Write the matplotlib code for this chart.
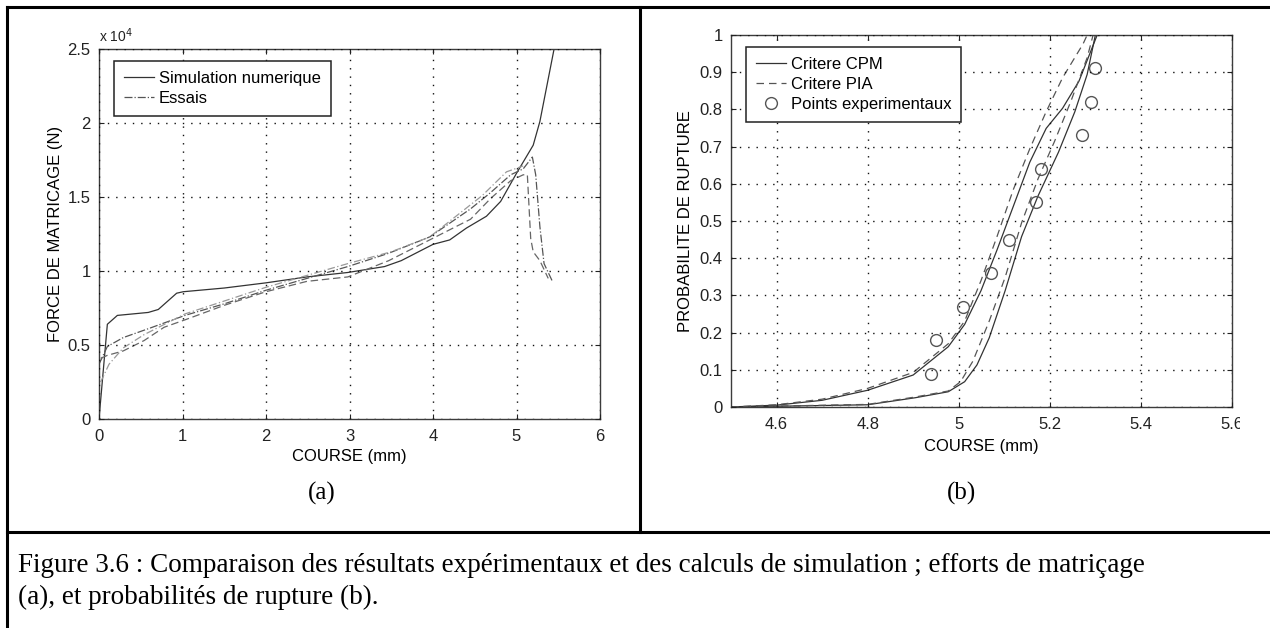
import numpy as np
import matplotlib
matplotlib.use("Agg")
import matplotlib.pyplot as plt
from matplotlib.lines import Line2D
from matplotlib.patches import Rectangle
from matplotlib.ticker import FuncFormatter

plt.rcParams['font.family'] = ['Liberation Sans', 'DejaVu Sans']

# (a) force de matricage (N) en fonction de la course (mm)
sim_x = [0, 0.1, 0.22, 0.59, 0.71, 0.93, 1.01, 1.5, 2.0, 2.49, 2.98, 3.42, 3.62, 4.0, 4.2, 4.4, 4.64, 4.81, 5.0, 5.2, 5.28, 5.45]
sim_y = [0, 6400, 7000, 7200, 7400, 8500, 8600, 8850, 9200, 9600, 9900, 10300, 10700, 11800, 12100, 12900, 13700, 14700, 16600, 18500, 20100, 25000]

ess1_x = [0, 0.1, 0.29, 0.59, 1.03, 1.51, 2.0, 2.49, 2.98, 3.47, 3.96, 4.45, 4.69, 4.93, 5.08, 5.19, 5.23, 5.28, 5.33, 5.43]
ess1_y = [3700, 4900, 5500, 6100, 7000, 7800, 8700, 9500, 10300, 11200, 12300, 14200, 15300, 16500, 16900, 17700, 16500, 13000, 10500, 9300]

ess2_x = [0.02, 0.1, 0.29, 0.54, 0.78, 1.03, 1.51, 2.0, 2.49, 2.98, 3.47, 3.96, 4.45, 4.69, 4.93, 5.08, 5.13, 5.17, 5.2, 5.28, 5.38]
ess2_y = [4100, 4300, 4600, 5300, 6200, 6700, 7700, 8600, 9300, 9600, 10700, 12100, 13500, 14900, 16100, 16500, 16500, 12200, 11300, 10700, 9500]

ess3_x = [0.02, 0.12, 0.29, 0.54, 1.03, 2.0, 2.98, 3.5, 3.96, 4.59, 4.88, 5.08]
ess3_y = [2500, 3700, 4800, 5700, 7100, 8900, 10500, 11300, 12300, 15100, 16700, 17100]

# (b) probabilite de rupture en fonction de la course (mm)
cpm_hi_x = [4.5, 4.6, 4.7, 4.8, 4.9, 4.977, 5.013, 5.049, 5.084, 5.12, 5.156, 5.192, 5.228, 5.264, 5.304]
cpm_hi_y = [0, 0.005, 0.018, 0.045, 0.086, 0.162, 0.222, 0.313, 0.422, 0.54, 0.658, 0.749, 0.803, 0.876, 1.0]
cpm_lo_x = [4.5, 4.8, 4.905, 4.977, 5.013, 5.04, 5.067, 5.102, 5.138, 5.174, 5.219, 5.255, 5.282, 5.30]
cpm_lo_y = [0, 0.006, 0.025, 0.041, 0.068, 0.113, 0.186, 0.313, 0.458, 0.567, 0.685, 0.794, 0.894, 1.0]

pia_hi_x = [4.5, 4.6, 4.7, 4.8, 4.9, 4.977, 5.013, 5.049, 5.084, 5.12, 5.156, 5.192, 5.228, 5.273, 5.282]
pia_hi_y = [0, 0.006, 0.021, 0.05, 0.093, 0.17, 0.231, 0.34, 0.458, 0.585, 0.694, 0.794, 0.885, 0.976, 1.0]
pia_lo_x = [4.5, 4.8, 4.905, 4.977, 5.004, 5.031, 5.067, 5.102, 5.138, 5.174, 5.21, 5.246, 5.282, 5.295]
pia_lo_y = [0, 0.007, 0.027, 0.043, 0.068, 0.123, 0.231, 0.349, 0.495, 0.613, 0.713, 0.821, 0.939, 1.0]

exp_x = [4.94, 4.95, 5.01, 5.07, 5.11, 5.17, 5.18, 5.27, 5.29, 5.30]
exp_y = [0.09, 0.18, 0.27, 0.36, 0.45, 0.55, 0.64, 0.73, 0.82, 0.91]

W, H = 1270, 628
fig = plt.figure(figsize=(W / 100, H / 100), dpi=100)


def box(x0, y0, x1, y1):
    # pixel box (top-left origin) -> figure fraction rect
    return [x0 / W, 1 - y1 / H, (x1 - x0) / W, (y1 - y0) / H]


def matlab_axes(ax):
    for s in ax.spines.values():
        s.set_color('#3c3c3c')
        s.set_linewidth(1.0)
    ax.tick_params(direction='in', top=True, right=True, length=3.5, width=0.8,
                   labelsize=12, colors='#222222', pad=6)
    ax.tick_params(axis='x', pad=7)
    ax.grid(True, color='#111111', linestyle=(0, (1, 5)), linewidth=1.0)
    ax.set_axisbelow(False)


def matlab_legend(ax):
    leg = ax.legend(loc='upper left', bbox_to_anchor=(0.03, 0.968), borderaxespad=0,
                    fontsize=12, fancybox=False, framealpha=1, edgecolor='#222222',
                    handlelength=1.8, handletextpad=0.25, labelspacing=0.28, borderpad=0.62)
    leg.get_frame().set_linewidth(1.1)
    return leg


ax1 = fig.add_axes(box(99, 49, 600, 419))
ax1.plot(sim_x, sim_y, color='#333333', lw=0.9, label='Simulation numerique')
ax1.plot(ess1_x, ess1_y, color='#555555', lw=0.9, linestyle='-.', label='Essais')
ax1.plot(ess2_x, ess2_y, color='#666666', lw=0.9, linestyle=(0, (6, 3)))
ax1.plot(ess3_x, ess3_y, color='#999999', lw=0.9, linestyle=(0, (6, 2, 1, 2)))
ax1.set_xlim(0, 6)
ax1.set_ylim(0, 25000)
ax1.set_xticks(np.arange(0, 7, 1))
ax1.set_yticks(np.arange(0, 25001, 5000))
ax1.yaxis.set_major_formatter(FuncFormatter(lambda v, p: f'{v / 1e4:g}'))
matlab_axes(ax1)
ax1.set_xlabel('COURSE (mm)', fontsize=12, va='center')
ax1.xaxis.set_label_coords(0.5, -0.1)
ax1.set_ylabel('FORCE DE MATRICAGE (N)', fontsize=12, va='center')
ax1.yaxis.set_label_coords(-0.086, 0.5)
ax1.text(0.0, 1.01, r'x 10$^4$', transform=ax1.transAxes, fontsize=10, va='bottom', ha='left', color='#222222')
matlab_legend(ax1)

ax2 = fig.add_axes(box(731, 35, 1232, 407))
ax2.plot(cpm_hi_x, cpm_hi_y, color='#333333', lw=0.9, label='Critere CPM')
ax2.plot(cpm_lo_x, cpm_lo_y, color='#333333', lw=0.9)
ax2.plot(pia_hi_x, pia_hi_y, color='#555555', lw=0.9, linestyle=(0, (6, 4)), label='Critere PIA')
ax2.plot(pia_lo_x, pia_lo_y, color='#555555', lw=0.9, linestyle=(0, (6, 4)))
ax2.plot(exp_x, exp_y, linestyle='none', marker='o', ms=8.5, mfc='none', mec='#555555',
         mew=1.0, label='Points experimentaux')
ax2.set_xlim(4.5, 5.6)
ax2.set_ylim(0, 1)
ax2.set_xticks(np.arange(4.6, 5.61, 0.2))
ax2.set_yticks(np.arange(0, 1.01, 0.1))
ax2.xaxis.set_major_formatter(FuncFormatter(lambda v, p: f'{v:g}'))
ax2.yaxis.set_major_formatter(FuncFormatter(lambda v, p: f'{round(v, 1):g}'))
matlab_axes(ax2)
ax2.set_xlabel('COURSE (mm)', fontsize=12, va='center')
ax2.xaxis.set_label_coords(0.5, -0.105)
ax2.set_ylabel('PROBABILITE DE RUPTURE', fontsize=12, va='center')
ax2.yaxis.set_label_coords(-0.09, 0.5)
matlab_legend(ax2)

# sub-figure tags
fig.text(322 / W, 1 - 493 / H, '(a)', fontsize=18, family='Liberation Serif', ha='center', va='center')
fig.text(961 / W, 1 - 493 / H, '(b)', fontsize=18, family='Liberation Serif', ha='center', va='center')

# right image cell is cropped
fig.add_artist(Rectangle((1240 / W, 1 - 470 / H), 26 / W, 60 / H, transform=fig.transFigure,
                         facecolor='white', edgecolor='none', zorder=5))

# table frame
frame_kw = dict(color='black', lw=2.2, transform=fig.transFigure, zorder=6)
fig.add_artist(Line2D([7 / W, 1], [1 - 7 / H, 1 - 7 / H], **frame_kw))
fig.add_artist(Line2D([7 / W, 7 / W], [0, 1 - 7 / H], **frame_kw))
fig.add_artist(Line2D([7 / W, 1], [1 - 532 / H, 1 - 532 / H], **frame_kw))
fig.add_artist(Line2D([640 / W, 640 / W], [1 - 532 / H, 1 - 7 / H], **frame_kw))

caption = ['Figure 3.6 : Comparaison des résultats expérimentaux et des calculs de simulation ; efforts de matriçage',
           '(a), et probabilités de rupture (b).']
fig.text(18 / W, 1 - 566 / H, caption[0], fontsize=19.5, family='Liberation Serif', va='center', ha='left')
fig.text(18 / W, 1 - 597 / H, caption[1], fontsize=19.5, family='Liberation Serif', va='center', ha='left')

fig.savefig('out.png', dpi=100)
